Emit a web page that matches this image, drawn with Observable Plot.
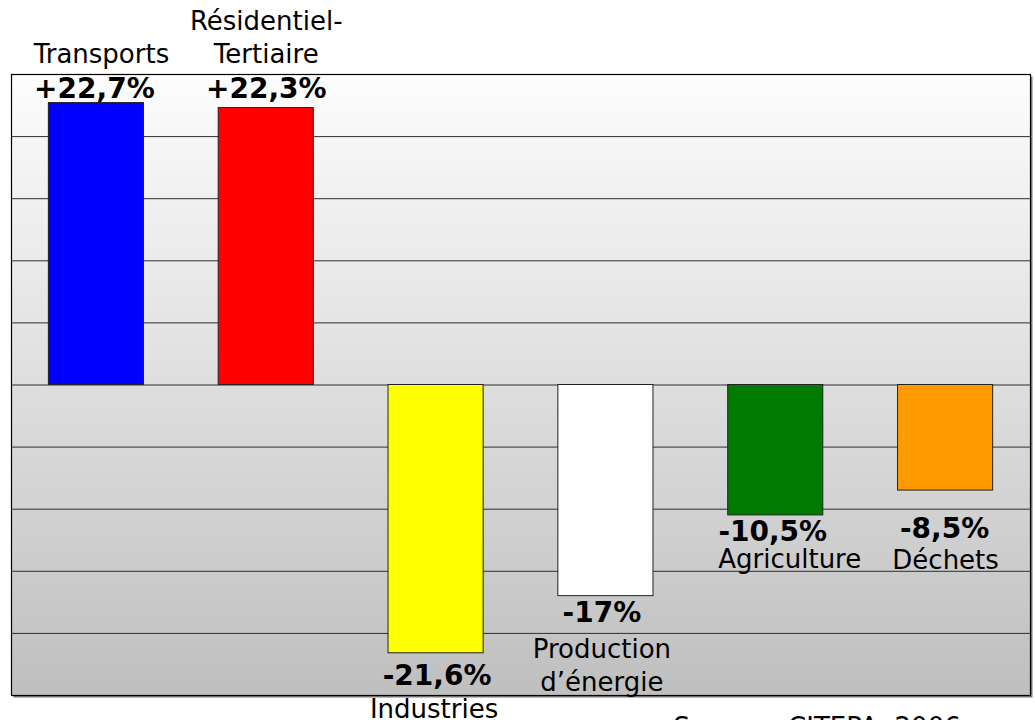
<!DOCTYPE html>
<html>
<head>
<meta charset="utf-8">
<script src="https://cdn.jsdelivr.net/npm/d3@7"></script>
<script src="https://cdn.jsdelivr.net/npm/@observablehq/plot@0.6"></script>
<style>
  html, body { margin: 0; padding: 0; background: #fff; overflow: hidden; }
  #chart svg { display: block; }
</style>
</head>
<body>
<div id="chart"></div>
<script>
// ---- data ----
const categories = ["Transports", "Résidentiel-\nTertiaire", "Industries", "Production\nd’énergie", "Agriculture", "Déchets"];
const values = [22.7, 22.3, -21.6, -17, -10.5, -8.5];
const valueLabels = ["+22,7%", "+22,3%", "-21,6%", "-17%", "-10,5%", "-8,5%"];
const barColors = ["#0000ff", "#ff0000", "#ffff00", "#ffffff", "#007a00", "#ff9a00"];
const gridTicks = [-25, -20, -15, -10, -5, 0, 5, 10, 15, 20, 25];
const source = "Source : CITEPA, 2006";

// ---- layout of annotations (pixel offsets, not data) ----
const labelLayout = [
  {vTop: true, vdx: -2, vdy: 23, cTop: true, cdx: 5, cdy: -12},
  {vTop: true, vdx: 0, vdy: 23, cTop: true, cdx: 0, cdy: -12},
  {vTop: false, vdx: 1, vdy: 32, cBottom: true, cdx: -2, cdy: 22},
  {vTop: false, vdx: -4, vdy: 26, cBottom: true, cdx: -4, cdy: -5},
  {vTop: false, vdx: -3, vdy: 26, cdx: 14, cdy: 53},
  {vTop: false, vdx: -1, vdy: 47, cdx: 0, cdy: 78}
];

const rows = categories.map((c, i) => ({category: c, value: values[i], color: barColors[i], label: valueLabels[i]}));

const textMarks = [];
rows.forEach((r, i) => {
  const L = labelLayout[i];
  textMarks.push(Plot.text([r], {
    x: "category",
    ...(L.vTop ? {frameAnchor: "top"} : {y: "value"}),
    dx: L.vdx, dy: L.vdy,
    text: "label",
    lineAnchor: "bottom",
    fontWeight: "bold",
    fontSize: 28,
    fill: "#000"
  }));
  textMarks.push(Plot.text([r], {
    x: "category",
    ...(L.cTop ? {frameAnchor: "top"} : L.cBottom ? {frameAnchor: "bottom"} : {y: "value"}),
    dx: L.cdx, dy: L.cdy,
    text: "category",
    lineAnchor: "bottom",
    lineHeight: 1.26,
    fontSize: 26,
    fill: "#000"
  }));
});

const chart = Plot.plot({
  width: 1035,
  height: 720,
  marginTop: 74,
  marginBottom: 25,
  marginLeft: 11,
  marginRight: 5,
  style: {fontFamily: "'DejaVu Sans', Verdana, sans-serif", background: "#fff", overflow: "hidden"},
  x: {domain: categories, paddingInner: 0.44, paddingOuter: 0.22, round: false, axis: null},
  y: {domain: [-25, 25], axis: null},
  color: {type: "identity"},
  marks: [
    Plot.frame({fill: "#7a7a7a", dx: 2, dy: 2}),
    Plot.frame({fill: "url(#bgGrad)"}),
    Plot.ruleY(gridTicks, {stroke: "#2e2e2e", strokeWidth: 1}),
    Plot.barY(rows, {x: "category", y: "value", fill: "color", stroke: "#222", strokeWidth: 1}),
    Plot.frame({stroke: "#000", strokeWidth: 1.2}),
    ...textMarks,
    Plot.text([source], {
      frameAnchor: "bottom-left",
      dx: 662, dy: 40,
      text: d => d,
      textAnchor: "start",
      lineAnchor: "bottom",
      fontSize: 26,
      fill: "#000"
    })
  ]
});

// gradient background definition
const defs = d3.select(chart).insert("defs", ":first-child");
const grad = defs.append("linearGradient")
  .attr("id", "bgGrad").attr("x1", 0).attr("y1", 0).attr("x2", 0).attr("y2", 1);
grad.append("stop").attr("offset", "0%").attr("stop-color", "#fdfdfd");
grad.append("stop").attr("offset", "100%").attr("stop-color", "#bfbfbf");

document.getElementById("chart").appendChild(chart);
</script>
</body>
</html>
